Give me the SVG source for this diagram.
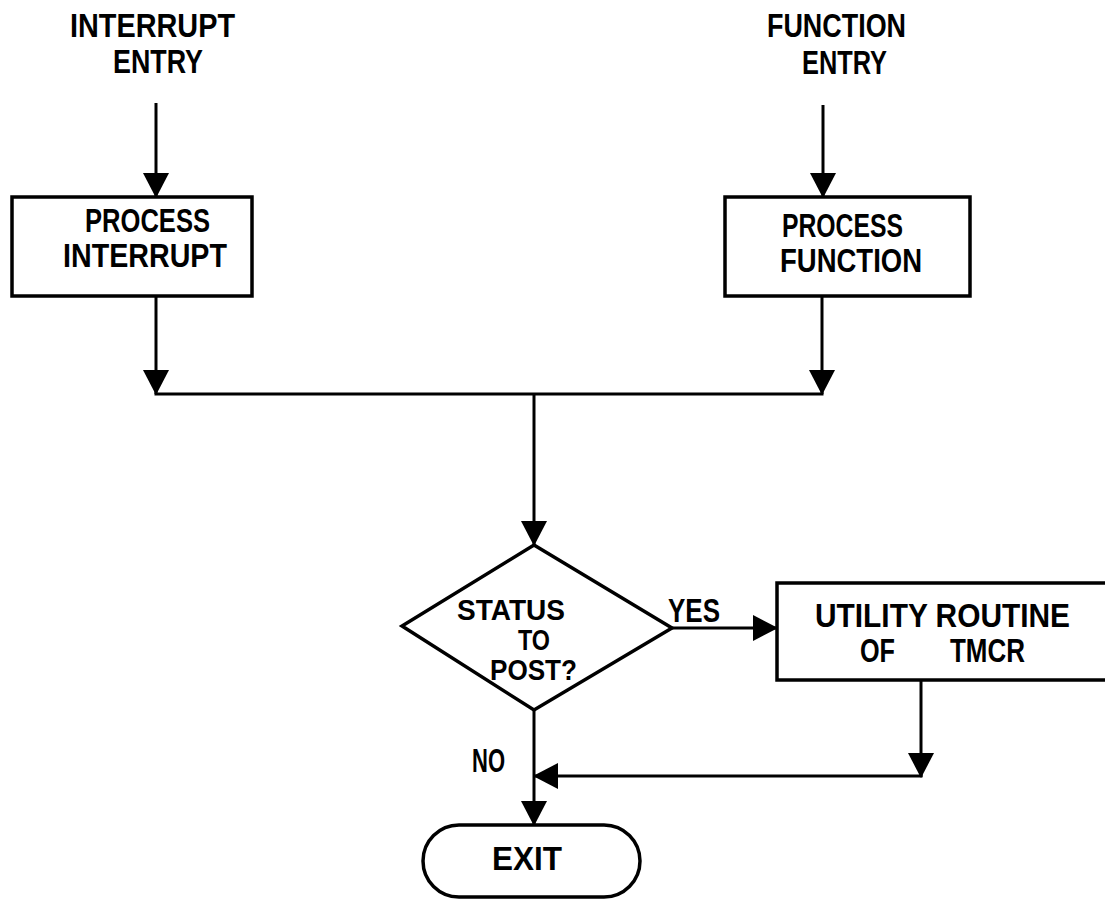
<svg xmlns="http://www.w3.org/2000/svg" width="1105" height="899" viewBox="0 0 1105 899">
<defs>
<marker id="ah" markerUnits="userSpaceOnUse" viewBox="0 0 25 26" markerWidth="25" markerHeight="26" refX="24" refY="13" orient="auto">
<path d="M0,0 L25,13 L0,26 Z" fill="#000"/>
</marker>
<style>
.t{font-family:"Liberation Sans","DejaVu Sans",Arial,sans-serif;font-weight:bold;font-size:33px;fill:#000}
.d{font-size:29px}
.s{fill:#fff;stroke:#000;stroke-width:3.5}
.c{fill:none;stroke:#000;stroke-width:3}
</style>
</defs>
<rect width="1105" height="899" fill="#fff"/>
<g id="interrupt-entry">
<text class="t" x="70" y="37" textLength="165" lengthAdjust="spacingAndGlyphs">INTERRUPT</text>
<text class="t" x="113" y="73" textLength="90" lengthAdjust="spacingAndGlyphs">ENTRY</text>
</g>
<g id="function-entry">
<text class="t" x="767" y="37" textLength="139" lengthAdjust="spacingAndGlyphs">FUNCTION</text>
<text class="t" x="802" y="74" textLength="85" lengthAdjust="spacingAndGlyphs">ENTRY</text>
</g>
<g id="process-interrupt">
<rect class="s" x="12" y="197" width="240" height="99"/>
<text class="t" x="85" y="232" textLength="125" lengthAdjust="spacingAndGlyphs">PROCESS</text>
<text class="t" x="63" y="267" textLength="164" lengthAdjust="spacingAndGlyphs">INTERRUPT</text>
</g>
<g id="process-function">
<rect class="s" x="725" y="197" width="245" height="99"/>
<text class="t" x="782" y="237" textLength="121" lengthAdjust="spacingAndGlyphs">PROCESS</text>
<text class="t" x="780" y="272" textLength="142" lengthAdjust="spacingAndGlyphs">FUNCTION</text>
</g>
<g id="status-decision">
<polygon class="s" points="534,545 672,628 534,710 402,626"/>
<text class="t d" x="457" y="620" textLength="108" lengthAdjust="spacingAndGlyphs">STATUS</text>
<text class="t d" x="518" y="650" textLength="32" lengthAdjust="spacingAndGlyphs">TO</text>
<text class="t d" x="490" y="680" textLength="87" lengthAdjust="spacingAndGlyphs">POST?</text>
</g>
<g id="utility-routine">
<rect class="s" x="777" y="583" width="330" height="97"/>
<text class="t" x="815" y="627" textLength="255" lengthAdjust="spacingAndGlyphs">UTILITY ROUTINE</text>
<text class="t" x="860" y="662" textLength="35" lengthAdjust="spacingAndGlyphs">OF</text>
<text class="t" x="950" y="662" textLength="75" lengthAdjust="spacingAndGlyphs">TMCR</text>
</g>
<g id="exit">
<rect class="s" x="423" y="825" width="217" height="72" rx="36" ry="36"/>
<text class="t" x="492" y="870" textLength="70" lengthAdjust="spacingAndGlyphs">EXIT</text>
</g>
<g id="connectors">
<line class="c" x1="156" y1="103" x2="156" y2="197" marker-end="url(#ah)"/>
<line class="c" x1="823" y1="105" x2="823" y2="197" marker-end="url(#ah)"/>
<line class="c" x1="156" y1="296" x2="156" y2="394" marker-end="url(#ah)"/>
<line class="c" x1="822" y1="296" x2="822" y2="394" marker-end="url(#ah)"/>
<line class="c" x1="154.5" y1="394" x2="823.5" y2="394"/>
<line class="c" x1="534" y1="394" x2="534" y2="545" marker-end="url(#ah)"/>
<line class="c" x1="672" y1="628" x2="777" y2="628" marker-end="url(#ah)"/>
<line class="c" x1="921" y1="680" x2="921" y2="777" marker-end="url(#ah)"/>
<line class="c" x1="922.5" y1="776" x2="534" y2="776" marker-end="url(#ah)"/>
<line class="c" x1="534" y1="710" x2="534" y2="825" marker-end="url(#ah)"/>
<text class="t" x="668" y="622" textLength="52" lengthAdjust="spacingAndGlyphs">YES</text>
<text class="t" x="472" y="772" textLength="33" lengthAdjust="spacingAndGlyphs">NO</text>
</g>
</svg>
